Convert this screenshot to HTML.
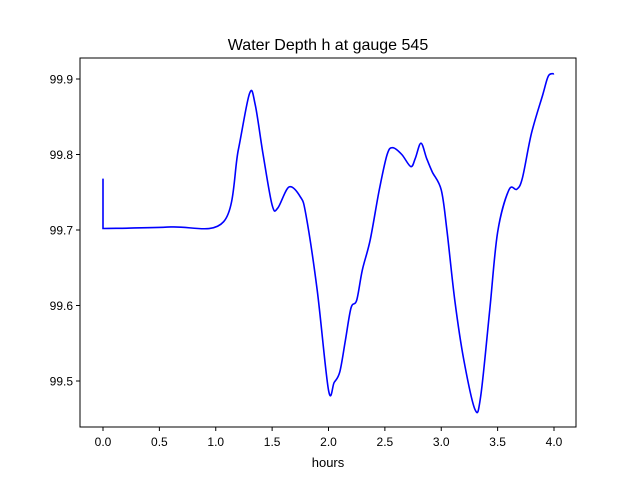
<!DOCTYPE html>
<html><head><meta charset="utf-8"><style>
body{margin:0;background:#fff;font-family:"Liberation Sans","DejaVu Sans",sans-serif}
</style></head><body>
<svg width="640" height="480" xmlns="http://www.w3.org/2000/svg" id="chart">
<defs><clipPath id="clip"><rect x="80" y="58" width="496" height="369"/></clipPath></defs>
<rect width="640" height="480" fill="#fff"/>
<text x="328" y="50" text-anchor="middle" font-size="16">Water Depth h at gauge 545</text>
<g id="ticks"></g>
<path id="line" fill="none" stroke="#0000ff" stroke-width="1.6" clip-path="url(#clip)"/>
<rect x="80" y="58" width="496" height="369" fill="none" stroke="#000" stroke-width="1"/>
<text x="328" y="467" text-anchor="middle" font-size="13">hours</text>
</svg>
<script>
const hours=[0,0,0.6,1.07,1.2,1.3,1.35,1.42,1.5,1.55,1.65,1.75,1.8,1.9,2.0,2.05,2.1,2.15,2.2,2.25,2.3,2.37,2.45,2.52,2.57,2.65,2.73,2.77,2.82,2.87,2.92,3.0,3.05,3.12,3.2,3.3,3.35,3.43,3.5,3.6,3.67,3.72,3.8,3.9,3.95,4.0];
const depth=[99.768,99.702,99.704,99.711,99.806,99.881,99.866,99.80,99.733,99.729,99.757,99.744,99.72,99.62,99.488,99.498,99.512,99.554,99.597,99.607,99.647,99.687,99.753,99.80,99.809,99.80,99.784,99.795,99.815,99.795,99.777,99.753,99.70,99.607,99.528,99.462,99.48,99.594,99.697,99.753,99.754,99.769,99.828,99.879,99.904,99.907];
const xTicks=[0,0.5,1,1.5,2,2.5,3,3.5,4];
const xTickLabels=["0.0","0.5","1.0","1.5","2.0","2.5","3.0","3.5","4.0"];
const yTicks=[99.5,99.6,99.7,99.8,99.9];
const yTickLabels=["99.5","99.6","99.7","99.8","99.9"];
const X=v=>103+v*112.75;
const Y=v=>79+(99.9-v)*755;
const NS="http://www.w3.org/2000/svg";
const g=document.getElementById('ticks');
function mk(t,a){const e=document.createElementNS(NS,t);for(const k in a)e.setAttribute(k,a[k]);g.appendChild(e);return e;}
xTicks.forEach((v,i)=>{
 const l=mk('line',{x1:X(v),x2:X(v),y1:427,y2:431,stroke:'#000'});
 
 
 const t=mk('text',{x:X(v),y:446,'text-anchor':'middle','font-size':'12'});
 t.textContent=xTickLabels[i];
 
 
});
yTicks.forEach((v,i)=>{
 const l=mk('line',{x1:76,x2:80,y1:Y(v),y2:Y(v),stroke:'#000'});
 
 
 const t=mk('text',{x:73,y:Y(v)+4.5,'text-anchor':'end','font-size':'12'});
 t.textContent=yTickLabels[i];
 
 
});
const P=hours.map((h,i)=>[X(h),Y(depth[i])]);
let d=`M${P[0][0]},${P[0][1]} L${P[1][0]},${P[1][1]}`;
for(let i=1;i<P.length-1;i++){
 const p0=P[Math.max(i-1,1)],p1=P[i],p2=P[i+1],p3=P[Math.min(i+2,P.length-1)];
 const c1=[p1[0]+(p2[0]-p0[0])/6,p1[1]+(p2[1]-p0[1])/6];
 const c2=[p2[0]-(p3[0]-p1[0])/6,p2[1]-(p3[1]-p1[1])/6];
 d+=` C${c1[0]},${c1[1]} ${c2[0]},${c2[1]} ${p2[0]},${p2[1]}`;
}
document.getElementById('line').setAttribute('d',d);
</script>
</body></html>
